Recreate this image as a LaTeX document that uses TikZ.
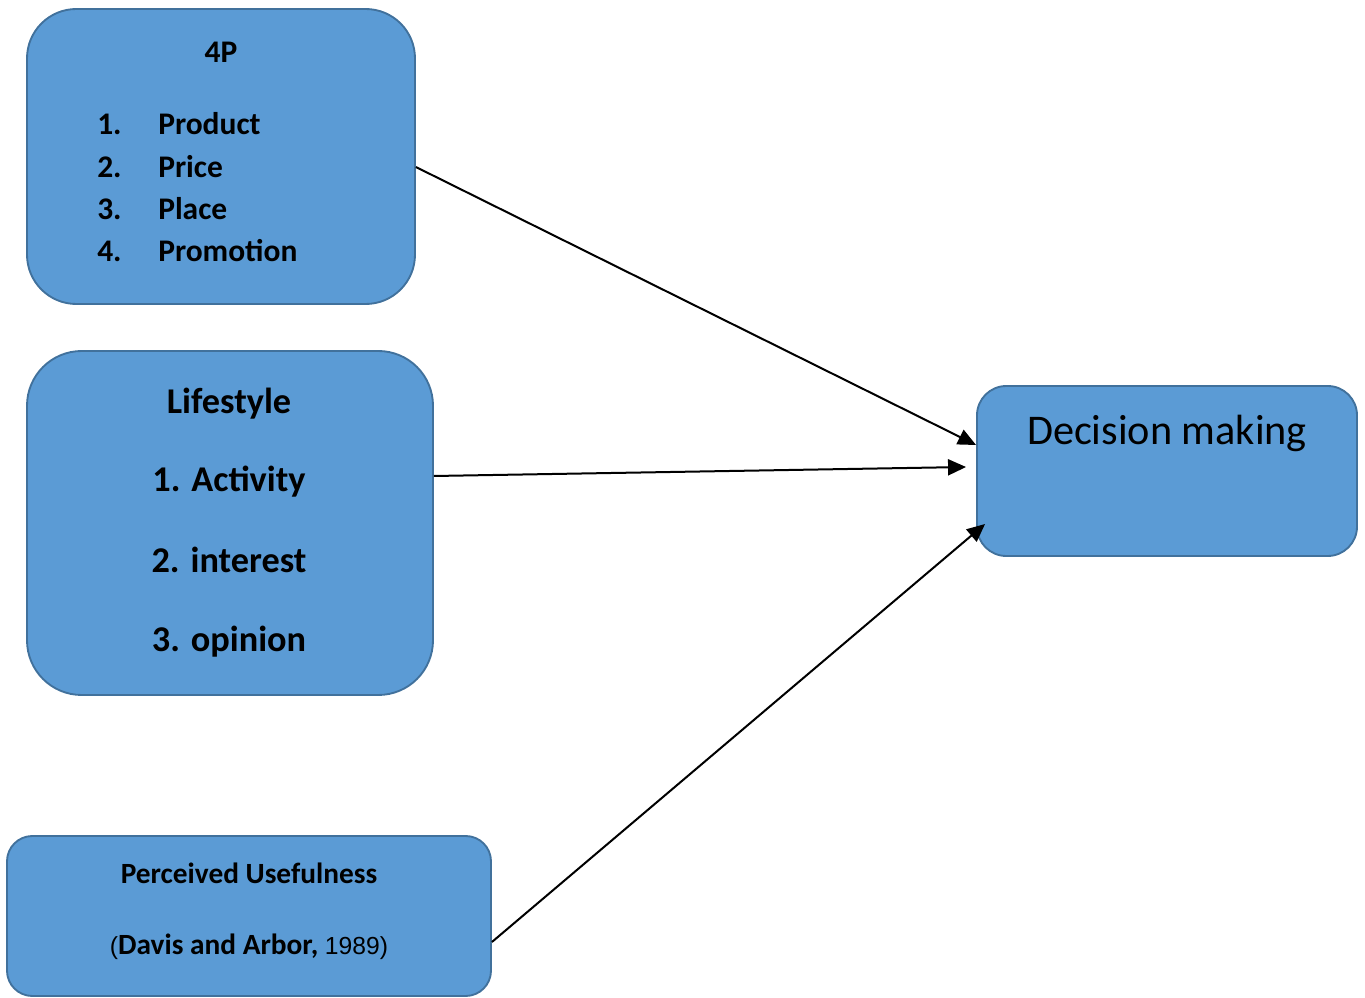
\documentclass[tikz,border=0pt]{standalone}
\usepackage{fontspec}
\setmainfont{Carlito}
\newfontfamily\arialfont{Liberation Sans}
\usetikzlibrary{fit,arrows.meta}

\definecolor{boxfill}{HTML}{5B9BD5}
\definecolor{boxline}{HTML}{41719C}

\tikzset{
  box/.style={draw=boxline, fill=boxfill, line width=1.4pt, inner sep=0pt},
  txt/.style={inner sep=0pt, anchor=base, text=black},
  lefttxt/.style={txt, anchor=base west},
  arr/.style={draw=black, line width=1.5pt, -{Triangle[length=13.5pt,width=12pt]}}
}

\begin{document}
\begin{tikzpicture}[x=0.75pt, y=-0.75pt]
  \useasboundingbox (0,0) rectangle (1365,998);

  % boxes
  \node[box, rounded corners=37pt, fit={(27,9) (415,304)}] (p4) {};
  \node[box, rounded corners=41pt, fit={(27,351) (433,695)}] (life) {};
  \node[box, rounded corners=19pt, fit={(7,836) (491,996)}] (pu) {};
  \node[box, rounded corners=22pt, fit={(977,386) (1357,556)}] (dm) {};

  % 4P box contents
  \begin{scope}[every node/.append style={font=\fontsize{23.6}{28}\selectfont\bfseries}]
    \node[txt] (p4title) at (221,63) {4P};
    \node[lefttxt] (n1) at (97,135) {1.};
    \node[lefttxt] (n2) at (97,178) {2.};
    \node[lefttxt] (n3) at (97,220) {3.};
    \node[lefttxt] (n4) at (97,262) {4.};
    \node[lefttxt] (i1) at (158,135) {Product};
    \node[lefttxt] (i2) at (158,178) {Price};
    \node[lefttxt] (i3) at (158,220) {Place};
    \node[lefttxt] (i4) at (158,262) {Promotion};
  \end{scope}

  % Lifestyle box contents
  \begin{scope}[every node/.append style={font=\fontsize{27.2}{32}\selectfont\bfseries}]
    \node[txt] (ltitle) at (229,414) {Lifestyle};
    \node[txt] (l1) at (229,492) {1. Activity};
    \node[txt] (l2) at (229,573) {2. interest};
    \node[txt] (l3) at (229,652) {3. opinion};
  \end{scope}

  % Perceived Usefulness box contents
  \node[txt, font=\fontsize{22}{26}\selectfont\bfseries] (putitle) at (249,883) {Perceived Usefulness};
  \node[txt, font=\fontsize{22}{26}\selectfont] (puref) at (249,954)
    {{\arialfont\fontsize{18.5}{22}\selectfont(}\textbf{Davis and Arbor,}
     {\arialfont\fontsize{18.5}{22}\selectfont 1989)}};

  % Decision making box contents
  \node[txt, font=\fontsize{31.7}{38}\selectfont] (dmtitle) at (1167,445) {Decision making};

  % connectors
  \draw[arr] ([yshift=-7.9pt]p4.east) -- ([yshift=19.5pt]dm.west);
  \draw[arr] ([yshift=35.25pt]life.east) -- ([xshift=-7.5pt,yshift=3pt]dm.west);
  \draw[arr] ([yshift=-19.5pt]pu.east) -- ([xshift=6.75pt,yshift=-39.75pt]dm.west);
\end{tikzpicture}
\end{document}
